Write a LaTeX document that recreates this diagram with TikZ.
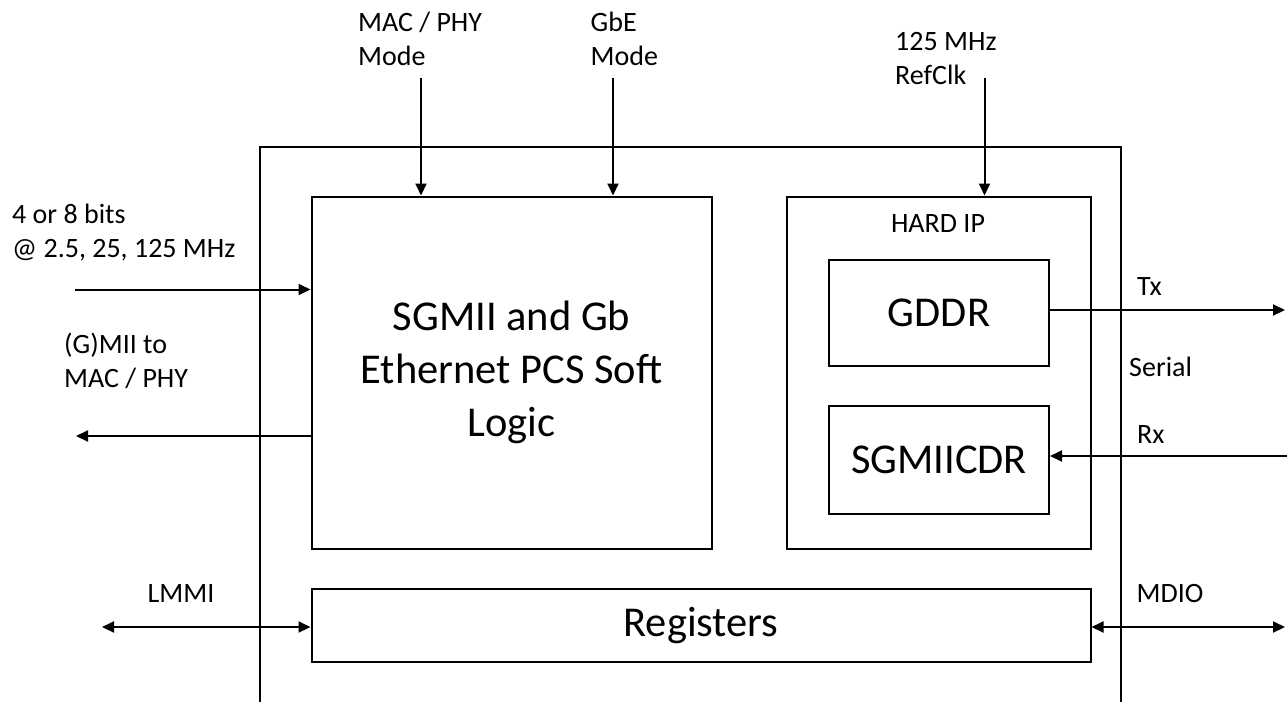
\documentclass[tikz,border=0pt]{standalone}
\usepackage{fontspec}
\setmainfont{Carlito}
\usetikzlibrary{arrows.meta}
\tikzset{
  every picture/.style={x=1pt,y=-1pt},
  line/.style={draw=black, line width=2pt},
  box/.style={line, rectangle, inner sep=0pt, align=center, font=\fontsize{42.5}{53}\selectfont},
  lab/.style={inner sep=0pt, align=left, font=\fontsize{28}{34}\selectfont},
  arr/.style={line, -{Triangle[length=12pt,width=11pt]}},
  arrb/.style={line, {Triangle[length=12pt,width=11pt]}-{Triangle[length=12pt,width=11pt]}},
}
\begin{document}
\begin{tikzpicture}
\useasboundingbox (0,0) rectangle (1287,702);
% outer box (cut off at the bottom)
\draw[line] (260,702) -- (260,147) -- (1121,147) -- (1121,702);
% blocks
\node[box, minimum width=400pt, minimum height=352pt] (pcs) at (511.5,372.5) {SGMII and Gb\\Ethernet PCS Soft\\Logic};
\node[box, minimum width=303.5pt, minimum height=352pt] (hard) at (939,372.5) {};
\node[lab] (hardl) at (938,224) {HARD IP};
\node[box, minimum width=220pt, minimum height=106pt] (gddr) at (939,313) {GDDR};
\node[box, minimum width=220pt, minimum height=108pt] (cdr) at (939,460) {SGMIICDR};
\node[box, minimum width=779pt, minimum height=73pt] (reg) at (701,625.7) {Registers};
% free ends
\coordinate (inS) at (75,289.5);
\coordinate (outE) at (76,436);
\coordinate (macS) at (421,78);
\coordinate (gbeS) at (613,78);
\coordinate (refS) at (984.5,78);
\coordinate (txE) at (1285,310);
\coordinate (rxS) at (1287,456);
\coordinate (lmmiE) at (102,627);
\coordinate (mdioE) at (1285,627);
% connectors
\draw[arr] (inS) -- (inS -| pcs.west);
\draw[arr] (outE -| pcs.west) -- (outE);
\draw[arr] (macS) -- (macS |- pcs.north);
\draw[arr] (gbeS) -- (gbeS |- pcs.north);
\draw[arr] (refS) -- (refS |- hard.north);
\draw[arr] (txE -| gddr.east) -- (txE);
\draw[arr] (rxS) -- (rxS -| cdr.east);
\draw[arrb] (lmmiE) -- (lmmiE -| reg.west);
\draw[arrb] (mdioE -| reg.east) -- (mdioE);
% labels
\node[lab, anchor=west] (lbits) at (12,232.5) {4 or 8 bits\\@ 2.5, 25, 125 MHz};
\node[lab, anchor=west] (lgmii) at (64,361) {(G)MII to\\MAC / PHY};
\node[lab, anchor=west] (lmac) at (358,38.5) {MAC / PHY\\Mode};
\node[lab, anchor=west] (lgbe) at (590.5,38.5) {GbE\\Mode};
\node[lab, anchor=west] (lref) at (895,58.5) {125 MHz\\RefClk};
\node[lab, anchor=west] (ltx) at (1137,287) {Tx};
\node[lab, anchor=west] (lser) at (1129,367) {Serial};
\node[lab, anchor=west] (lrx) at (1137,435) {Rx};
\node[lab] (llmmi) at (181,594) {LMMI};
\node[lab] (lmdio) at (1170,593) {MDIO};
\end{tikzpicture}
\end{document}
